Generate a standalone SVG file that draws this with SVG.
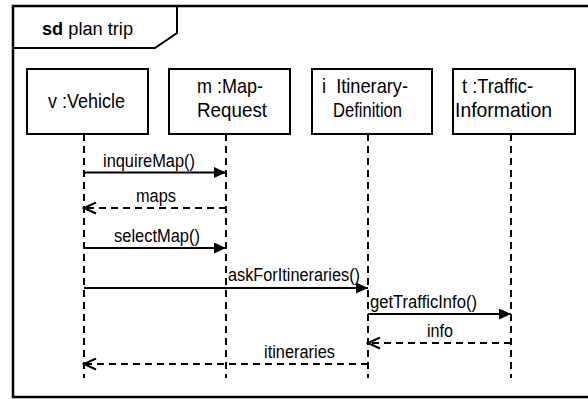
<svg xmlns="http://www.w3.org/2000/svg" width="588" height="399" viewBox="0 0 588 399">
<style>
text{font-family:"Liberation Sans",Arial,sans-serif;fill:#000}
.box{fill:#fff;stroke:#000;stroke-width:2}
.ll{stroke:#000;stroke-width:2;stroke-dasharray:7 5;fill:none}
.nm{font-size:21px;text-anchor:start}
.lb{font-size:17.5px}
.msg{stroke:#000;stroke-width:2;fill:none}
.ret{stroke:#000;stroke-width:2;stroke-dasharray:7 5;fill:none}
</style>
<defs>
<marker id="fill" markerWidth="13" markerHeight="11" refX="12" refY="5.5" orient="auto" markerUnits="userSpaceOnUse">
<path d="M0,0 L12,5.5 L0,11 Z" fill="#000"/>
</marker>
<marker id="open" markerWidth="15" markerHeight="13" refX="13" refY="6.5" orient="auto" markerUnits="userSpaceOnUse">
<path d="M1,1 L13,6.5 L1,12" fill="none" stroke="#000" stroke-width="2"/>
</marker>
</defs>
<rect width="588" height="399" fill="#fff"/>
<g id="frame">
<path d="M600,6 L13,6 L13,397 L600,397" fill="none" stroke="#000" stroke-width="2.5"/>
<path d="M13,48 L155,48 L177,33 L177,6" fill="none" stroke="#000" stroke-width="2"/>
<text x="42" y="35" font-size="18" textLength="91" lengthAdjust="spacingAndGlyphs"><tspan font-weight="bold">sd</tspan> plan trip</text>
</g>
<g id="lifelines">
<line class="ll" x1="84" y1="134" x2="84" y2="378"/>
<line class="ll" x1="226" y1="134" x2="226" y2="378"/>
<line class="ll" x1="368" y1="134" x2="368" y2="378"/>
<line class="ll" x1="511" y1="134" x2="511" y2="378"/>
</g>
<g id="vehicle">
<rect class="box" x="27" y="69" width="121" height="65"/>
<text class="nm" x="48" y="108" textLength="77" lengthAdjust="spacingAndGlyphs">v :Vehicle</text>
</g>
<g id="maprequest">
<rect class="box" x="169" y="69" width="121" height="65"/>
<text class="nm" x="197" y="93" textLength="66" lengthAdjust="spacingAndGlyphs">m :Map-</text>
<text class="nm" x="197" y="117" textLength="70" lengthAdjust="spacingAndGlyphs">Request</text>
</g>
<g id="itinerary">
<rect class="box" x="312" y="69" width="120" height="65"/>
<text class="nm" x="322" y="93" textLength="86" lengthAdjust="spacingAndGlyphs" xml:space="preserve">i  Itinerary-</text>
<text class="nm" x="333" y="117" textLength="69" lengthAdjust="spacingAndGlyphs">Definition</text>
</g>
<g id="traffic">
<rect class="box" x="453" y="69" width="122" height="65"/>
<text class="nm" x="462" y="93" textLength="71" lengthAdjust="spacingAndGlyphs">t :Traffic-</text>
<text class="nm" x="455" y="117" textLength="97" lengthAdjust="spacingAndGlyphs">Information</text>
</g>
<g id="connectors">
<line class="msg" x1="84" y1="172.5" x2="226" y2="172.5" marker-end="url(#fill)"/>
<text class="lb" x="103" y="167" textLength="92" lengthAdjust="spacingAndGlyphs">inquireMap()</text>
<line class="ret" x1="226" y1="208" x2="84" y2="208" marker-end="url(#open)"/>
<text class="lb" x="136" y="202" textLength="40" lengthAdjust="spacingAndGlyphs">maps</text>
<line class="msg" x1="84" y1="248" x2="226" y2="248" marker-end="url(#fill)"/>
<text class="lb" x="114" y="242" textLength="86" lengthAdjust="spacingAndGlyphs">selectMap()</text>
<line class="msg" x1="84" y1="288" x2="368" y2="288" marker-end="url(#fill)"/>
<text class="lb" x="228" y="281" textLength="132" lengthAdjust="spacingAndGlyphs">askForItineraries()</text>
<line class="msg" x1="368" y1="314" x2="511" y2="314" marker-end="url(#fill)"/>
<text class="lb" x="370" y="308" textLength="107" lengthAdjust="spacingAndGlyphs">getTrafficInfo()</text>
<line class="ret" x1="511" y1="343" x2="368" y2="343" marker-end="url(#open)"/>
<text class="lb" x="427" y="337" textLength="26" lengthAdjust="spacingAndGlyphs">info</text>
<line class="ret" x1="368" y1="364" x2="84" y2="364" marker-end="url(#open)"/>
<text class="lb" x="264" y="358" textLength="71" lengthAdjust="spacingAndGlyphs">itineraries</text>
</g>
</svg>
